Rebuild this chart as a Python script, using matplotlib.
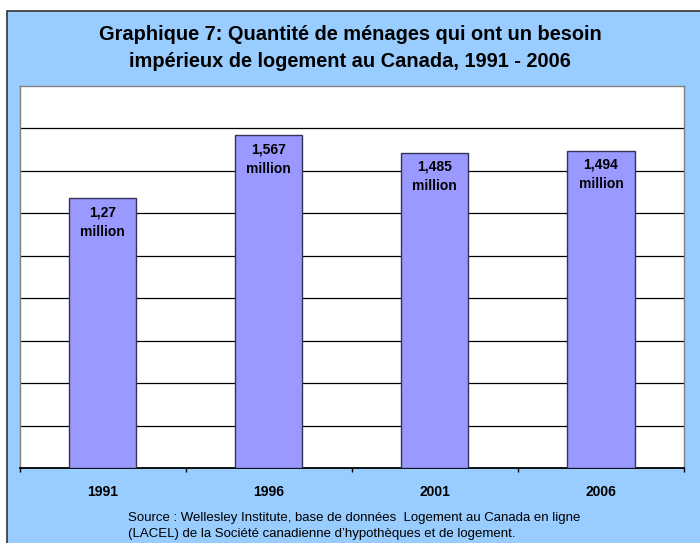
import matplotlib.pyplot as plt
from matplotlib.patches import Rectangle
import numpy as np

plt.rcParams['font.family'] = ['Liberation Sans', 'DejaVu Sans']

years = ['1991', '1996', '2001', '2006']
households = [1.27, 1.567, 1.485, 1.494]  # millions
bar_labels = ['1,27\nmillion', '1,567\nmillion', '1,485\nmillion', '1,494\nmillion']
grid_values = [0.2, 0.4, 0.6, 0.8, 1.0, 1.2, 1.4, 1.6]

title = ("Graphique 7: Quantité de ménages qui ont un besoin\n"
         "impérieux de logement au Canada, 1991 - 2006")
source = ("Source : Wellesley Institute, base de données  Logement au Canada en ligne\n"
          "(LACEL) de la Société canadienne d’hypothèques et de logement.")

fig = plt.figure(figsize=(7, 5.43), dpi=100)
fig.patch.set_facecolor('white')

# light blue panel behind everything
panel = Rectangle((7 / 700, -0.01), 1.0, (543 - 11) / 543 + 0.01,
                  transform=fig.transFigure, facecolor='#99CCFF',
                  edgecolor='#333333', linewidth=1.2, zorder=-5)
fig.patches.append(panel)

ax = fig.add_axes([19.5 / 700, 1 - 468 / 543, (684 - 19.5) / 700, (468 - 86) / 543])
ax.set_zorder(2)
ax.set_facecolor('white')

x = np.arange(len(years))
bars = ax.bar(x, households, width=0.405, color='#9999FF',
              edgecolor='#333355', linewidth=1.0, zorder=3)

for v in grid_values:
    ax.axhline(v, color='black', linewidth=0.9, zorder=1)

for b, lab in zip(bars, bar_labels):
    ax.annotate(lab, (b.get_x() + b.get_width() / 2, b.get_height()),
                xytext=(0, -5), textcoords='offset points',
                ha='center', va='top', fontsize=10, fontweight='bold',
                linespacing=1.5, zorder=4)

ax.set_xlim(-0.5, len(years) - 0.5)
ax.set_ylim(0, 1.8)
ax.set_yticks([])
ax.set_xticks(x)
ax.set_xticklabels(years, fontsize=10, fontweight='bold')
ax.tick_params(axis='x', which='major', length=0, pad=12.5)
ax.set_xticks(np.arange(len(years) + 1) - 0.5, minor=True)
ax.tick_params(axis='x', which='minor', length=3, width=1, color='black', direction='out')

for side in ['left', 'top', 'right']:
    ax.spines[side].set_color('#808080')
    ax.spines[side].set_linewidth(1.0)
ax.spines['bottom'].set_color('black')
ax.spines['bottom'].set_linewidth(1.3)

fig.text(0.5, 1 - 48 / 543, title, ha='center', va='center', fontsize=14.4,
         fontweight='bold', linespacing=1.55)
fig.text(128 / 700, 1 - 526 / 543, source, ha='left', va='center', fontsize=9.5,
         linespacing=1.5)

fig.savefig('out.png', dpi=100)
